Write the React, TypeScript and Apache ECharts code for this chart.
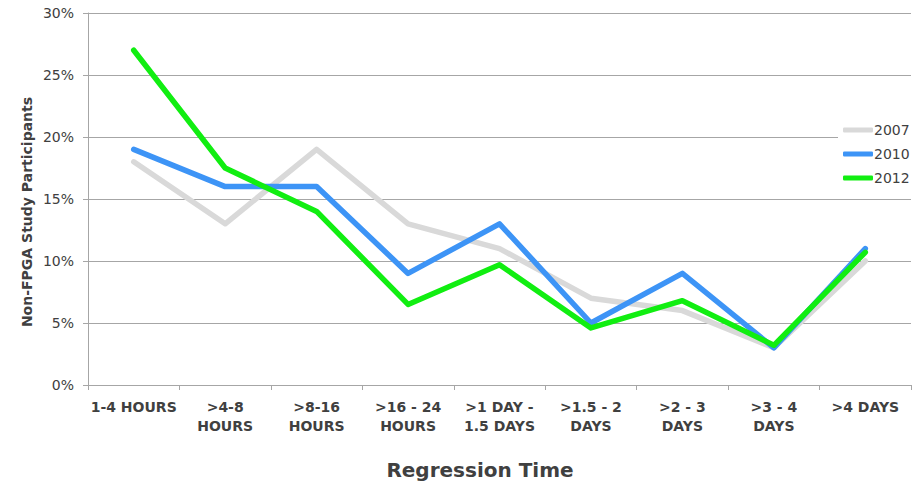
import React, { useEffect, useRef } from "react";
import * as echarts from "echarts";

// Regression time buckets
const categories = [
  "1-4 HOURS",
  ">4-8\nHOURS",
  ">8-16\nHOURS",
  ">16 - 24\nHOURS",
  ">1 DAY -\n1.5 DAYS",
  ">1.5 - 2\nDAYS",
  ">2 - 3\nDAYS",
  ">3 - 4\nDAYS",
  ">4 DAYS",
];

// Share of non-FPGA study participants (%)
const values2007 = [18, 13, 19, 13, 11, 7, 6, 3, 10];
const values2010 = [19, 16, 16, 9, 13, 5, 9, 3, 11];
const values2012 = [27, 17.5, 14, 6.5, 9.7, 4.6, 6.8, 3.2, 10.7];

const yTicks = { min: 0, max: 30, interval: 5 };

const FONT = "'DejaVu Sans', Verdana, sans-serif";
const TEXT = "#404040";
const AXIS = "#a6a6a6";

export default function App() {
  const ref = useRef<HTMLDivElement>(null);

  useEffect(() => {
    if (!ref.current) return;
    const chart = echarts.init(ref.current, undefined, { renderer: "svg" });
    const line = (name: string, data: number[], color: string) => ({
      name,
      type: "line",
      data,
      symbol: "none",
      lineStyle: { width: 5.5, color, join: "round", cap: "round" },
      itemStyle: { color },
    });
    chart.setOption({
      animation: false,
      backgroundColor: "#ffffff",
      textStyle: { fontFamily: FONT },
      grid: { left: 88, right: 13, top: 13, bottom: 101, containLabel: false },
      legend: {
        orient: "vertical",
        left: 838,
        top: 119,
        backgroundColor: "#ffffff",
        padding: [4, 4, 4, 5],
        itemWidth: 30,
        itemHeight: 5,
        itemGap: 10,
        icon: "roundRect",
        textStyle: { fontFamily: FONT, fontSize: 14, color: TEXT, padding: [0, 0, 0, -4], lineHeight: 14 },
        data: ["2007", "2010", "2012"],
      },
      xAxis: {
        type: "category",
        data: categories,
        boundaryGap: true,
        axisLine: { lineStyle: { color: AXIS, width: 1 } },
        axisTick: { show: true, length: 5, lineStyle: { color: AXIS } },
        axisLabel: {
          interval: 0,
          fontFamily: FONT,
          fontWeight: "bold",
          fontSize: 14,
          lineHeight: 19,
          color: TEXT,
          margin: 12,
        },
        splitLine: { show: false },
      },
      yAxis: {
        type: "value",
        min: yTicks.min,
        max: yTicks.max,
        interval: yTicks.interval,
        axisLine: { show: true, lineStyle: { color: AXIS, width: 1 } },
        axisTick: { show: true, length: 5, lineStyle: { color: AXIS } },
        axisLabel: {
          formatter: "{value}%",
          fontFamily: FONT,
          fontSize: 14,
          color: TEXT,
          margin: 14,
        },
        splitLine: { show: true, lineStyle: { color: AXIS, width: 1 } },
      },
      graphic: [
        {
          type: "text",
          x: 27,
          y: 212,
          rotation: Math.PI / 2,
          style: {
            text: "Non-FPGA Study Participants",
            font: `bold 14px ${FONT}`,
            fill: TEXT,
            align: "center",
            verticalAlign: "middle",
          },
        },
        {
          type: "text",
          x: 480,
          y: 470,
          style: {
            text: "Regression Time",
            font: `bold 20px ${FONT}`,
            fill: TEXT,
            align: "center",
            verticalAlign: "middle",
          },
        },
      ],
      series: [
        line("2007", values2007, "#d9d9d9"),
        line("2010", values2010, "#3d94f6"),
        line("2012", values2012, "#11ee11"),
      ],
    });
    return () => chart.dispose();
  }, []);

  return (
    <div
      ref={ref}
      style={{ position: "fixed", left: 0, top: 0, width: 924, height: 486 }}
    />
  );
}
